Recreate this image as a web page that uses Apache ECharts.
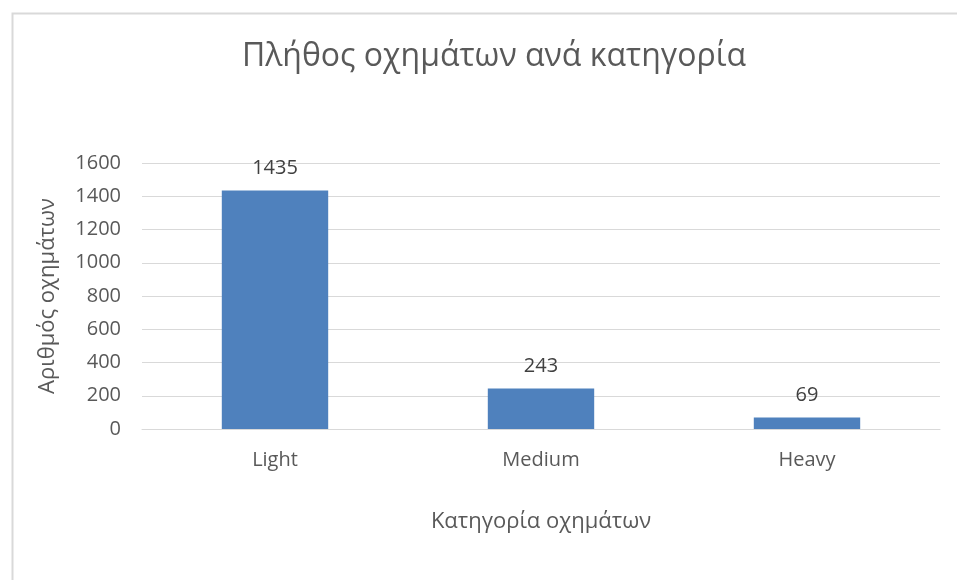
<!DOCTYPE html>
<html>
<head>
<meta charset="utf-8">
<script src="https://cdn.jsdelivr.net/npm/echarts@6/dist/echarts.min.js"></script>
<style>
  html, body { margin: 0; padding: 0; background: #fff; }
  #chart { width: 957px; height: 580px; }
</style>
</head>
<body>
<div id="chart"></div>
<script>
// Vehicle counts per category
const categories = ['Light', 'Medium', 'Heavy'];
const vehicleCounts = [1435, 243, 69];
const yTicks = { min: 0, max: 1600, interval: 200 };

const chart = echarts.init(document.getElementById('chart'));
const fontFamily = '"Open Sans", "Noto Sans", sans-serif';
const textColor = '#595959';

chart.setOption({
  animation: false,
  backgroundColor: '#ffffff',
  textStyle: { fontFamily: fontFamily },
  graphic: [{
    type: 'rect',
    left: 10, top: 11,
    shape: { width: 1000, height: 1000 },
    style: { fill: 'none', stroke: '#d9d9d9', lineWidth: 2 },
    silent: true
  }],
  title: {
    text: 'Πλήθος οχημάτων ανά κατηγορία',
    left: 489, top: 36,
    textAlign: 'center',
    textStyle: { fontFamily: fontFamily, fontSize: 32, fontWeight: 'normal', color: textColor }
  },
  grid: { left: 142, right: 17, top: 163, bottom: 151, containLabel: false },
  xAxis: {
    type: 'category',
    data: categories,
    name: 'Κατηγορία οχημάτων',
    nameLocation: 'middle',
    nameGap: 82,
    nameTextStyle: { fontFamily: fontFamily, fontSize: 22, color: textColor },
    axisLine: { show: true, lineStyle: { color: '#d9d9d9', width: 1 } },
    axisTick: { show: false },
    axisLabel: { margin: 21, fontSize: 20, color: textColor, fontFamily: fontFamily }
  },
  yAxis: {
    type: 'value',
    min: yTicks.min, max: yTicks.max, interval: yTicks.interval,
    name: 'Αριθμός οχημάτων',
    nameLocation: 'middle',
    nameGap: 83,
    nameRotate: 90,
    nameTextStyle: { fontFamily: fontFamily, fontSize: 22, color: textColor },
    axisLine: { show: false },
    axisTick: { show: false },
    axisLabel: {
      margin: 21, fontSize: 20, color: textColor, fontFamily: fontFamily,
      formatter: function (v) { return String(v); }
    },
    splitLine: { lineStyle: { color: '#d9d9d9', width: 1 } }
  },
  series: [{
    type: 'bar',
    data: vehicleCounts,
    barWidth: '40%',
    itemStyle: { color: '#4f81bd' },
    label: {
      show: true,
      position: 'top',
      distance: 12,
      fontSize: 20,
      color: '#404040',
      fontFamily: fontFamily
    }
  }]
});
</script>
</body>
</html>
